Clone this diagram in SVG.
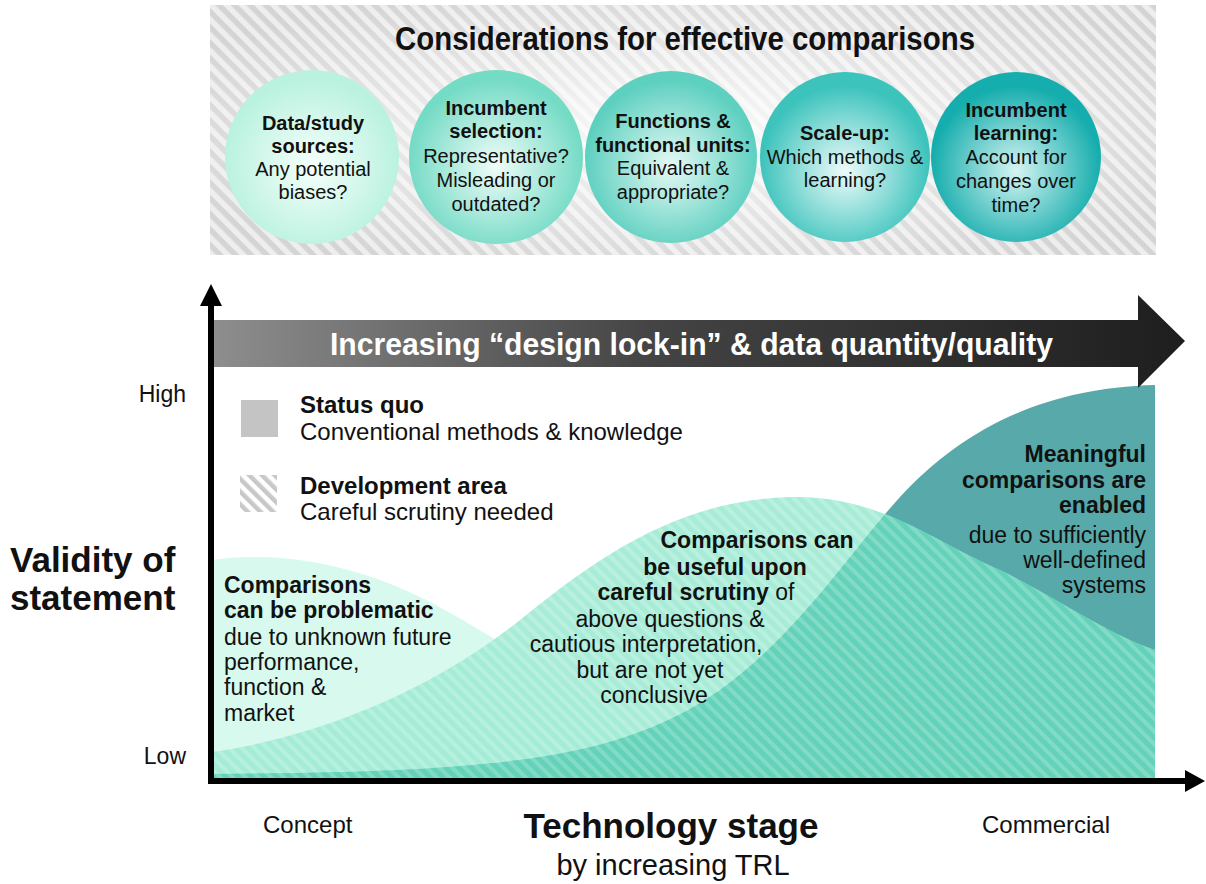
<svg xmlns="http://www.w3.org/2000/svg" width="1206" height="884" viewBox="0 0 1206 884">
<defs>
<style>
.t{font-family:"Liberation Sans",Arial,Helvetica,sans-serif;fill:#111;}
.b{font-weight:bold;}
.c20{font-size:20px;text-anchor:middle;}
.ch{font-size:23px;}
.lg{font-size:24px;}
</style>
<radialGradient id="bannerG" cx="50%" cy="50%" r="60%">
<stop offset="0" stop-color="#fafafa"/>
<stop offset="1" stop-color="#d4d4d4"/>
</radialGradient>
<pattern id="bannerH" patternUnits="userSpaceOnUse" width="11" height="11" patternTransform="rotate(-45)">
<rect x="0" y="0" width="5.5" height="11" fill="#ffffff" fill-opacity="0.6"/>
</pattern>
<pattern id="chartH" patternUnits="userSpaceOnUse" width="9" height="9" patternTransform="rotate(-45)">
<rect x="0" y="0" width="4" height="9" fill="#ffffff" fill-opacity="0.2"/>
</pattern>
<pattern id="legH" patternUnits="userSpaceOnUse" width="9" height="9" patternTransform="rotate(-45)">
<rect x="0" y="0" width="4.5" height="9" fill="#c8c8c8"/>
</pattern>
<radialGradient id="g1" cx="50%" cy="55%" r="50%"><stop offset="0" stop-color="#f6fffb"/><stop offset="1" stop-color="#baf2df"/></radialGradient>
<radialGradient id="g2" cx="50%" cy="55%" r="50%"><stop offset="0" stop-color="#f0fcf8"/><stop offset="1" stop-color="#74dbc5"/></radialGradient>
<radialGradient id="g3" cx="50%" cy="55%" r="50%"><stop offset="0" stop-color="#e6f9f4"/><stop offset="1" stop-color="#5dd0c0"/></radialGradient>
<radialGradient id="g4" cx="50%" cy="58%" r="50%"><stop offset="0" stop-color="#eefbfa"/><stop offset="1" stop-color="#3cc3bc"/></radialGradient>
<radialGradient id="g5" cx="50%" cy="58%" r="50%"><stop offset="0" stop-color="#d6f4f2"/><stop offset="1" stop-color="#15adad"/></radialGradient>
<linearGradient id="arrowG" x1="212" y1="0" x2="1185" y2="0" gradientUnits="userSpaceOnUse">
<stop offset="0" stop-color="#8e8e8e"/>
<stop offset="0.45" stop-color="#444444"/>
<stop offset="1" stop-color="#1e1e1e"/>
</linearGradient>
<path id="bShape" d="M212,752 C300,740 420,700 520,620 C600,555 680,500 790,497 C880,495 930,540 1000,570 C1060,600 1110,635 1155,650 L1155,778 L212,778 Z"/>
<path id="cShape" d="M212,774 C500,772 620,760 720,690 C800,632 850,552 900,497 C960,432 1040,388 1155,385 L1155,778 L212,778 Z"/>
<clipPath id="bClip"><use href="#bShape"/></clipPath>
</defs>

<!-- Top banner -->
<g id="banner">
<rect x="210" y="5" width="946" height="250" fill="url(#bannerG)"/>
<rect x="210" y="5" width="946" height="250" fill="url(#bannerH)"/>
<text class="t b" x="395" y="50" font-size="34" textLength="580" lengthAdjust="spacingAndGlyphs">Considerations for effective comparisons</text>
</g>

<g id="circle-data">
<circle cx="312" cy="157" r="87" fill="url(#g1)"/>
<text class="t c20 b" x="313" y="130">Data/study</text>
<text class="t c20 b" x="313" y="153">sources:</text>
<text class="t c20" x="313" y="176">Any potential</text>
<text class="t c20" x="313" y="199">biases?</text>
</g>
<g id="circle-incumbent-selection">
<circle cx="496" cy="157" r="87" fill="url(#g2)"/>
<text class="t c20 b" x="496" y="115">Incumbent</text>
<text class="t c20 b" x="496" y="138">selection:</text>
<text class="t c20" x="496" y="163">Representative?</text>
<text class="t c20" x="496" y="187">Misleading or</text>
<text class="t c20" x="496" y="211">outdated?</text>
</g>
<g id="circle-functions">
<circle cx="671" cy="157" r="86" fill="url(#g3)"/>
<text class="t c20 b" x="673" y="128">Functions &amp;</text>
<text class="t c20 b" x="673" y="152">functional units:</text>
<text class="t c20" x="673" y="175">Equivalent &amp;</text>
<text class="t c20" x="673" y="199">appropriate?</text>
</g>
<g id="circle-scaleup">
<circle cx="845" cy="157" r="85" fill="url(#g4)"/>
<text class="t c20 b" x="845" y="140">Scale-up:</text>
<text class="t c20" x="845" y="164">Which methods &amp;</text>
<text class="t c20" x="845" y="187">learning?</text>
</g>
<g id="circle-incumbent-learning">
<circle cx="1016" cy="157" r="85" fill="url(#g5)"/>
<text class="t c20 b" x="1016" y="117">Incumbent</text>
<text class="t c20 b" x="1016" y="140">learning:</text>
<text class="t c20" x="1016" y="164">Account for</text>
<text class="t c20" x="1016" y="188">changes over</text>
<text class="t c20" x="1016" y="212">time?</text>
</g>

<!-- Chart areas -->
<g id="area-concept">
<path d="M212,560 C260,553 320,558 380,580 C430,598 470,625 510,648 C570,685 640,740 720,778 L212,778 Z" fill="#d8f9ed"/>
</g>
<g id="area-commercial">
<use href="#cShape" fill="#58a9a9"/>
</g>
<g id="area-development">
<use href="#bShape" fill="#9fead3" fill-opacity="0.9"/>
<use href="#cShape" fill="#63d2b9" clip-path="url(#bClip)"/>
<use href="#bShape" fill="url(#chartH)"/>
</g>

<!-- Big arrow -->
<g id="lockin-arrow">
<polygon points="212,320 1138,320 1138,295 1185,341 1138,388 1138,367 212,367" fill="url(#arrowG)"/>
<text class="t b" x="330" y="355" font-size="32" style="fill:#ffffff" textLength="723" lengthAdjust="spacingAndGlyphs">Increasing “design lock-in” &amp; data quantity/quality</text>
</g>

<!-- Axes -->
<g id="axes">
<line x1="211" y1="784" x2="211" y2="302" stroke="#000" stroke-width="6"/>
<polygon points="211,284 222,306 200,306" fill="#000"/>
<line x1="208" y1="781" x2="1190" y2="781" stroke="#000" stroke-width="6"/>
<polygon points="1205,781 1185,770 1185,792" fill="#000"/>
</g>

<!-- Legend -->
<g id="legend-status-quo">
<rect x="241" y="400" width="37" height="37" fill="#c4c4c4"/>
<text class="t b lg" x="300" y="413">Status quo</text>
<text class="t lg" x="300" y="440">Conventional methods &amp; knowledge</text>
</g>
<g id="legend-development">
<rect x="240" y="475" width="37" height="37" fill="url(#legH)"/>
<text class="t b lg" x="300" y="494">Development area</text>
<text class="t lg" x="300" y="520">Careful scrutiny needed</text>
</g>

<!-- Axis labels -->
<g id="y-labels">
<text class="t" x="186" y="402" font-size="23" text-anchor="end">High</text>
<text class="t" x="186" y="764" font-size="23" text-anchor="end">Low</text>
<text class="t b" x="10" y="572" font-size="35">Validity of</text>
<text class="t b" x="10" y="610" font-size="35">statement</text>
</g>
<g id="x-labels">
<text class="t" x="263" y="833" font-size="24">Concept</text>
<text class="t" x="982" y="833" font-size="24">Commercial</text>
<text class="t b" x="671" y="838" font-size="35" text-anchor="middle">Technology stage</text>
<text class="t" x="673" y="875" font-size="29" text-anchor="middle">by increasing TRL</text>
</g>

<!-- Chart texts -->
<g id="text-concept">
<text class="t b ch" x="224" y="593">Comparisons</text>
<text class="t b ch" x="224" y="618">can be problematic</text>
<text class="t ch" x="224" y="645">due to unknown future</text>
<text class="t ch" x="224" y="670">performance,</text>
<text class="t ch" x="224" y="695">function &amp;</text>
<text class="t ch" x="224" y="721">market</text>
</g>
<g id="text-development">
<text class="t b ch" x="757" y="548" text-anchor="middle">Comparisons can</text>
<text class="t b ch" x="725" y="575" text-anchor="middle">be useful upon</text>
<text class="t ch" x="696" y="600" text-anchor="middle"><tspan font-weight="bold">careful scrutiny</tspan> of</text>
<text class="t ch" x="670" y="627" text-anchor="middle">above questions &amp;</text>
<text class="t ch" x="646" y="652" text-anchor="middle">cautious interpretation,</text>
<text class="t ch" x="650" y="678" text-anchor="middle">but are not yet</text>
<text class="t ch" x="654" y="703" text-anchor="middle">conclusive</text>
</g>
<g id="text-commercial">
<text class="t b ch" x="1146" y="462" text-anchor="end">Meaningful</text>
<text class="t b ch" x="1146" y="488" text-anchor="end">comparisons are</text>
<text class="t b ch" x="1146" y="513" text-anchor="end">enabled</text>
<text class="t ch" x="1146" y="543" text-anchor="end">due to sufficiently</text>
<text class="t ch" x="1146" y="568" text-anchor="end">well-defined</text>
<text class="t ch" x="1146" y="593" text-anchor="end">systems</text>
</g>
</svg>
